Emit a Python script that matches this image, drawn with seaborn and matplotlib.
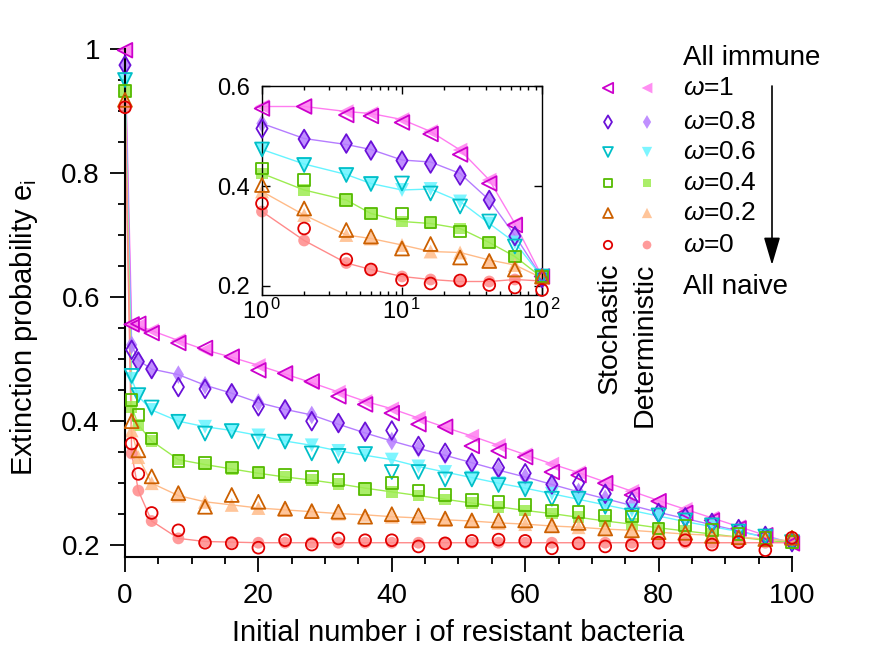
import matplotlib
matplotlib.use("Agg")
import matplotlib.pyplot as plt
import seaborn as sns
from matplotlib.ticker import MultipleLocator, FixedLocator, NullFormatter, LogLocator

sns.set_style("ticks")
plt.rcParams['font.family'] = ['Liberation Sans', 'DejaVu Sans']
plt.rcParams['mathtext.fontset'] = 'custom'
plt.rcParams['mathtext.rm'] = 'Liberation Sans'
plt.rcParams['mathtext.it'] = 'Liberation Sans:italic'
plt.rcParams['text.color'] = 'black'
plt.rcParams['axes.labelcolor'] = 'black'

# main plot: initial number i of resistant bacteria
i_main = [0, 1, 2, 4, 8, 12, 16, 20, 24, 28, 32, 36, 40, 44, 48, 52, 56, 60,
          64, 68, 72, 76, 80, 84, 88, 92, 96, 100]

omega_labels = ['1', '0.8', '0.6', '0.4', '0.2', '0']

# stochastic (open markers)
stoch_w1 = [0.998, 0.556, 0.557, 0.542, 0.526, 0.518, 0.504, 0.482, 0.477, 0.464, 0.440, 0.427, 0.413, 0.395,
            0.391, 0.360, 0.352, 0.342, 0.318, 0.313, 0.300, 0.281, 0.271, 0.252, 0.240, 0.227, 0.216, 0.203]
stoch_w08 = [0.974, 0.515, 0.496, 0.484, 0.455, 0.452, 0.445, 0.424, 0.419, 0.400, 0.397, 0.383, 0.385, 0.360,
             0.349, 0.333, 0.325, 0.316, 0.298, 0.300, 0.283, 0.270, 0.252, 0.245, 0.236, 0.226, 0.215, 0.205]
stoch_w06 = [0.950, 0.473, 0.442, 0.422, 0.399, 0.380, 0.384, 0.367, 0.367, 0.348, 0.344, 0.347, 0.318, 0.318,
             0.306, 0.306, 0.297, 0.290, 0.275, 0.275, 0.262, 0.248, 0.248, 0.240, 0.232, 0.222, 0.214, 0.205]
stoch_w04 = [0.932, 0.434, 0.410, 0.372, 0.336, 0.333, 0.325, 0.317, 0.314, 0.310, 0.305, 0.291, 0.300, 0.288,
             0.281, 0.273, 0.270, 0.265, 0.256, 0.254, 0.248, 0.246, 0.227, 0.232, 0.225, 0.218, 0.212, 0.205]
stoch_w02 = [0.918, 0.400, 0.353, 0.311, 0.284, 0.262, 0.281, 0.270, 0.259, 0.255, 0.254, 0.246, 0.250, 0.248,
             0.243, 0.240, 0.240, 0.240, 0.232, 0.236, 0.227, 0.224, 0.221, 0.220, 0.215, 0.213, 0.210, 0.212]
stoch_w0 = [0.906, 0.364, 0.315, 0.252, 0.224, 0.204, 0.203, 0.196, 0.208, 0.201, 0.211, 0.208, 0.208, 0.198,
            0.203, 0.207, 0.209, 0.207, 0.195, 0.203, 0.198, 0.200, 0.204, 0.208, 0.201, 0.205, 0.192, 0.212]

# deterministic (filled markers + line)
det_w1 = [0.998, 0.556, 0.554, 0.546, 0.530, 0.515, 0.503, 0.490, 0.476, 0.462, 0.447, 0.432, 0.420, 0.405,
          0.390, 0.376, 0.361, 0.346, 0.331, 0.317, 0.302, 0.287, 0.272, 0.258, 0.244, 0.230, 0.216, 0.203]
det_w08 = [0.974, 0.523, 0.498, 0.484, 0.475, 0.458, 0.445, 0.430, 0.419, 0.410, 0.395, 0.381, 0.368, 0.356,
           0.345, 0.333, 0.321, 0.310, 0.298, 0.286, 0.275, 0.264, 0.253, 0.243, 0.233, 0.223, 0.213, 0.204]
det_w06 = [0.950, 0.468, 0.440, 0.418, 0.400, 0.391, 0.385, 0.377, 0.368, 0.361, 0.352, 0.345, 0.338, 0.327,
           0.318, 0.309, 0.300, 0.292, 0.283, 0.274, 0.265, 0.256, 0.247, 0.238, 0.230, 0.222, 0.213, 0.205]
det_w04 = [0.932, 0.423, 0.394, 0.368, 0.338, 0.330, 0.323, 0.316, 0.310, 0.305, 0.299, 0.292, 0.286, 0.280,
           0.274, 0.268, 0.262, 0.256, 0.251, 0.245, 0.239, 0.234, 0.228, 0.223, 0.218, 0.213, 0.208, 0.204]
det_w02 = [0.918, 0.385, 0.342, 0.300, 0.280, 0.270, 0.265, 0.260, 0.257, 0.254, 0.251, 0.249, 0.246, 0.244,
           0.241, 0.239, 0.236, 0.234, 0.231, 0.229, 0.226, 0.224, 0.221, 0.218, 0.216, 0.213, 0.210, 0.207]
det_w0 = [0.906, 0.348, 0.288, 0.239, 0.211, 0.206, 0.205, 0.204, 0.204, 0.204, 0.204, 0.204, 0.204, 0.204,
          0.204, 0.204, 0.204, 0.204, 0.204, 0.204, 0.204, 0.204, 0.204, 0.204, 0.204, 0.204, 0.204, 0.204]

# inset (log x)
i_inset = [1, 2, 4, 6, 10, 16, 26, 42, 64, 100]
in_stoch_w1 = [0.555, 0.559, 0.542, 0.540, 0.527, 0.504, 0.463, 0.405, 0.322, 0.219]
in_stoch_w08 = [0.515, 0.494, 0.485, 0.471, 0.451, 0.445, 0.421, 0.372, 0.300, 0.216]
in_stoch_w06 = [0.473, 0.442, 0.422, 0.404, 0.405, 0.385, 0.359, 0.329, 0.279, 0.219]
in_stoch_w04 = [0.435, 0.412, 0.372, 0.345, 0.345, 0.327, 0.309, 0.287, 0.259, 0.219]
in_stoch_w02 = [0.402, 0.355, 0.312, 0.299, 0.275, 0.284, 0.257, 0.250, 0.233, 0.219]
in_stoch_w0 = [0.365, 0.315, 0.253, 0.233, 0.212, 0.205, 0.211, 0.202, 0.197, 0.192]
in_det_w1 = [0.559, 0.559, 0.549, 0.545, 0.533, 0.509, 0.472, 0.412, 0.325, 0.219]
in_det_w08 = [0.525, 0.495, 0.483, 0.473, 0.452, 0.448, 0.425, 0.372, 0.301, 0.217]
in_det_w06 = [0.473, 0.444, 0.423, 0.405, 0.392, 0.394, 0.369, 0.325, 0.287, 0.218]
in_det_w04 = [0.425, 0.392, 0.372, 0.345, 0.329, 0.325, 0.315, 0.287, 0.259, 0.217]
in_det_w02 = [0.389, 0.342, 0.302, 0.295, 0.282, 0.269, 0.267, 0.252, 0.242, 0.216]
in_det_w0 = [0.349, 0.291, 0.246, 0.233, 0.219, 0.213, 0.209, 0.209, 0.213, 0.210]

stoch = [stoch_w1, stoch_w08, stoch_w06, stoch_w04, stoch_w02, stoch_w0]
det = [det_w1, det_w08, det_w06, det_w04, det_w02, det_w0]
in_stoch = [in_stoch_w1, in_stoch_w08, in_stoch_w06, in_stoch_w04, in_stoch_w02, in_stoch_w0]
in_det = [in_det_w1, in_det_w08, in_det_w06, in_det_w04, in_det_w02, in_det_w0]

markers = ['<', 'd', 'v', 's', '^', 'o']
sizes = [110, 90, 100, 70, 100, 72]
stoch_colors = ['#cc00cc', '#6a10d8', '#00bfc8', '#55bb00', '#cc6000', '#e00000']
det_colors = ['#ff7cf0', '#b57cff', '#66f4ff', '#9cec50', '#ffbb88', '#ff8a8a']


def draw(ax, x, dets, stochs):
    for k in range(6):
        sns.lineplot(x=x, y=dets[k], ax=ax, color=det_colors[k], lw=1.0,
                     zorder=1, clip_on=False)
        sns.scatterplot(x=x, y=dets[k], ax=ax, marker=markers[k], s=sizes[k],
                        color=det_colors[k], edgecolor='none', alpha=0.85,
                        zorder=2, clip_on=False)
        sns.scatterplot(x=x, y=stochs[k], ax=ax, marker=markers[k], s=sizes[k],
                        color=stoch_colors[k], facecolor='none', edgecolor=stoch_colors[k],
                        linewidth=1.3, zorder=3, clip_on=False)


fig = plt.figure(figsize=(8.75, 6.57), dpi=100)

# main axes
ax = fig.add_axes([125 / 875, (657 - 557) / 657, 667 / 875, 508 / 657])
draw(ax, i_main, det, stoch)
ax.set_xlim(0, 100)
ax.set_ylim(0.181, 1.0)
ax.xaxis.set_major_locator(MultipleLocator(20))
ax.xaxis.set_minor_locator(MultipleLocator(5))
ax.yaxis.set_major_locator(FixedLocator([0.2, 0.4, 0.6, 0.8, 1.0]))
ax.yaxis.set_minor_locator(MultipleLocator(0.05))
ax.set_yticklabels(['0.2', '0.4', '0.6', '0.8', '1'])
ax.tick_params(which='major', direction='out', length=11, width=1.3, labelsize=20, colors='black')
ax.tick_params(which='minor', direction='out', length=5, width=1.3, colors='black')
ax.tick_params(axis='x', which='major', pad=8)
ax.tick_params(axis='y', which='major', pad=7)
sns.despine(ax=ax)
for s in ['left', 'bottom']:
    ax.spines[s].set_linewidth(1.5)
    ax.spines[s].set_color('black')
ax.set_xlabel('Initial number i of resistant bacteria', fontsize=21)
ax.set_ylabel('Extinction probability e$_\\mathregular{i}$', fontsize=21)
ax.xaxis.set_label_coords(0.5, -0.122)
ax.yaxis.set_label_coords(-0.127, 0.451)

# inset
axin = fig.add_axes([262 / 875, (657 - 295) / 657, 280 / 875, 209 / 657])
draw(axin, i_inset, in_det, in_stoch)
axin.set_xscale('log')
axin.set_xlim(1, 100)
axin.set_ylim(0.182, 0.6)
axin.set_xticks([1, 10, 100])
axin.set_xticklabels(['10$^{\\,0}$', '10$^{\\,1}$', '10$^{\\,2}$'])
axin.xaxis.set_minor_locator(LogLocator(base=10, subs=range(2, 10)))
axin.xaxis.set_minor_formatter(NullFormatter())
axin.set_yticks([0.2, 0.4, 0.6])
axin.set_yticklabels(['0.2', '0.4', '0.6'])
axin.tick_params(which='both', direction='in', top=True, right=True, width=1.0, colors='black')
axin.tick_params(which='major', length=6, labelsize=17)
axin.tick_params(axis='y', which='major', pad=9)
axin.tick_params(axis='x', which='major', pad=3)
axin.tick_params(which='minor', length=3)
for s in axin.spines.values():
    s.set_linewidth(1.0)
    s.set_color('black')
axin.set_xlabel('')
axin.set_ylabel('')

# legend drawn in pixel coordinates
lax = fig.add_axes([0, 0, 1, 1])
rows_y = [88, 122, 152, 183, 213, 245]
for k in range(6):
    sns.scatterplot(x=[608], y=[rows_y[k]], ax=lax, marker=markers[k], s=sizes[k] * 0.5,
                    color=stoch_colors[k], facecolor='none', edgecolor=stoch_colors[k], linewidth=1.3)
    sns.scatterplot(x=[647], y=[rows_y[k]], ax=lax, marker=markers[k], s=sizes[k] * 0.55,
                    color=det_colors[k], edgecolor='none', alpha=0.85)
    lax.text(683, rows_y[k], '$\\omega$=' + omega_labels[k], fontsize=19, va='center', ha='left')
lax.set_xlim(0, 875)
lax.set_ylim(657, 0)
lax.axis('off')
lax.text(683, 58, 'All immune', fontsize=20, va='center', ha='left')
lax.text(683, 287, 'All naive', fontsize=20, va='center', ha='left')
lax.annotate('', xy=(772, 265), xytext=(772, 86),
             arrowprops=dict(arrowstyle='-|>,head_length=0.85,head_width=0.25', color='black',
                             lw=1.2, mutation_scale=20, shrinkA=0, shrinkB=0))
lax.text(610, 263, 'Stochastic', fontsize=20.5, rotation=90, va='top', ha='center')
lax.text(645, 263, 'Deterministic', fontsize=20.5, rotation=90, va='top', ha='center')

fig.savefig('out.png', dpi=100)
plt.close(fig)
